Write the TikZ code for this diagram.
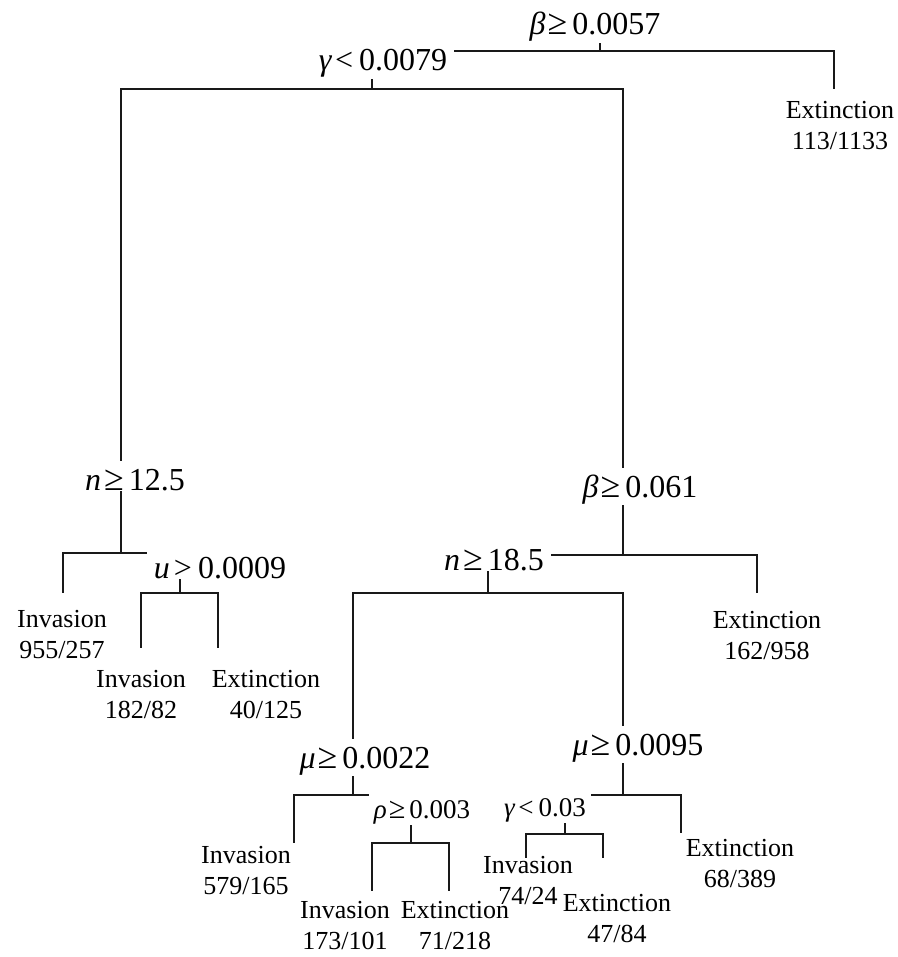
\documentclass[tikz,border=0pt]{standalone}
\usepackage{fontspec}
\setmainfont{Liberation Serif}
\pgfdeclarelayer{bg}
\pgfsetlayers{bg,main}
% two centred lines whose baseline is that of the first line
\newcommand\twolines[2]{\vtop{\halign{\hfil##\hfil\cr#1\cr#2\cr}}}
% relation sign of a split, slightly enlarged
\newcommand\rel[1]{\scalebox{1.12}{#1}}
\begin{document}
\begin{tikzpicture}[x=1pt,y=-1pt,
  split/.style={font=\fontsize{32}{36}\selectfont, fill=white, anchor=base,
    inner xsep=7pt, inner ysep=1pt, text height=28pt},
  splitsmall/.style={split, font=\fontsize{27}{31}\selectfont,
    inner xsep=5pt, text height=23pt},
  leaf/.style={font=\fontsize{26}{31}\selectfont, anchor=base, inner sep=0pt},
  branch/.style={line width=1.2pt, draw=black!90}]
\useasboundingbox (0,0) rectangle (897,957);

% split labels
\node[split] (R)  at (595,35)  {\textit{β}\kern2pt\rel{≥}\kern5pt0.0057};
\node[split] (G)  at (383,71)  {\textit{γ}\kern3pt<\kern6pt0.0079};
\node[split] (N1) at (135,490) {\textit{n}\kern3pt\rel{≥}\kern5pt12.5};
\node[split] (U)  at (220,578) {\textit{u}\kern4pt>\kern6pt0.0009};
\node[split] (B)  at (640,497) {\textit{β}\kern2pt\rel{≥}\kern5pt0.061};
\node[split] (N2) at (494,570) {\textit{n}\kern3pt\rel{≥}\kern5pt18.5};
\node[split] (M1) at (365,768) {\textit{μ}\kern2pt\rel{≥}\kern5pt0.0022};
\node[split] (M2) at (638,755) {\textit{μ}\kern2pt\rel{≥}\kern5pt0.0095};
\node[splitsmall] (P)  at (422,818) {\textit{ρ}\kern2pt\rel{≥}\kern4pt0.003};
\node[splitsmall] (G2) at (545,816) {\textit{γ}\kern3pt<\kern5pt0.03};

% leaf labels
\node[leaf] (E1) at (840,119) {\twolines{Extinction}{113/1133}};
\node[leaf] (I1) at (62,627)  {\twolines{Invasion}{955/257}};
\node[leaf] (I2) at (141,687) {\twolines{Invasion}{182/82}};
\node[leaf] (E2) at (266,687) {\twolines{Extinction}{40/125}};
\node[leaf] (E3) at (767,628) {\twolines{Extinction}{162/958}};
\node[leaf] (I3) at (246,863) {\twolines{Invasion}{579/165}};
\node[leaf] (I4) at (345,918) {\twolines{Invasion}{173/101}};
\node[leaf] (E4) at (455,918) {\twolines{Extinction}{71/218}};
\node[leaf] (I5) at (528,873) {\twolines{Invasion}{74/24}};
\node[leaf] (E5) at (617,911) {\twolines{Extinction}{47/84}};
\node[leaf] (E6) at (740,856) {\twolines{Extinction}{68/389}};

% branch junctions (split bars)
\coordinate (jR)  at (600,51);
\coordinate (jG)  at (372,89);
\coordinate (jN1) at (121,553);
\coordinate (jU)  at (180,593);
\coordinate (jB)  at (623,555);
\coordinate (jN2) at (488,593);
\coordinate (jM1) at (353,795);
\coordinate (jM2) at (623,795);
\coordinate (jP)  at (411,843);
\coordinate (jG2) at (565,834);

% ends of the leaf branches
\coordinate (tE1) at (834,89);
\coordinate (tI1) at (63,593);
\coordinate (tI2) at (141,648);
\coordinate (tE2) at (218,648);
\coordinate (tE3) at (757,593);
\coordinate (tI3) at (294,843);
\coordinate (tI4) at (372,891);
\coordinate (tE4) at (449,891);
\coordinate (tI5) at (526,858);
\coordinate (tE5) at (603,858);
\coordinate (tE6) at (681,833);

\begin{pgfonlayer}{bg}
  \draw[branch] (jR |- R.center) -- (jR);
  \draw[branch] (jR) -| (jG);   \draw[branch] (jR) -| (tE1);
  \draw[branch] (jG) -| (jN1);  \draw[branch] (jG) -| (jB);
  \draw[branch] (jN1) -| (tI1); \draw[branch] (jN1) -| (jU);
  \draw[branch] (jU) -| (tI2);  \draw[branch] (jU) -| (tE2);
  \draw[branch] (jB) -| (jN2);  \draw[branch] (jB) -| (tE3);
  \draw[branch] (jN2) -| (jM1); \draw[branch] (jN2) -| (jM2);
  \draw[branch] (jM1) -| (tI3); \draw[branch] (jM1) -| (jP);
  \draw[branch] (jP) -| (tI4);  \draw[branch] (jP) -| (tE4);
  \draw[branch] (jM2) -| (jG2); \draw[branch] (jM2) -| (tE6);
  \draw[branch] (jG2) -| (tI5); \draw[branch] (jG2) -| (tE5);
\end{pgfonlayer}
\end{tikzpicture}
\end{document}
